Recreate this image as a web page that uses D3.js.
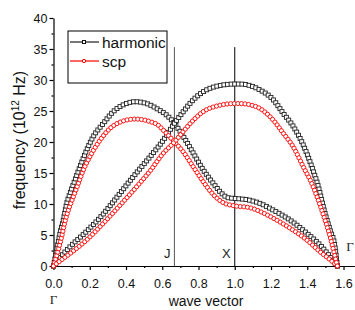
<!DOCTYPE html>
<html>
<head>
<meta charset="utf-8">
<script src="https://cdn.jsdelivr.net/npm/d3@7"></script>
<style>
  body { margin: 0; background: #fff; }
  svg { display: block; font-family: Arial, "Liberation Sans", sans-serif; }
</style>
</head>
<body>
<svg id="chart" width="355" height="310"></svg>
<script>
// [wave vector, frequency (10^12 Hz)]
var harmonic1 = [[0,0],[0.021,3.1],[0.036,5.3],[0.054,7.4],[0.073,10.1],[0.091,11.7],[0.119,13.9],[0.146,16.0],
  [0.183,18.7],[0.22,20.9],[0.275,23.0],[0.33,24.9],[0.385,26.0],[0.45,26.5],[0.514,26.2],[0.569,25.4],[0.633,24.1],
  [0.667,23.0],[0.716,20.9],[0.771,18.2],[0.826,15.5],[0.882,13.3],[0.928,11.7],[0.964,11.0],[1.0,10.9],[1.084,10.6],
  [1.139,10.1],[1.213,9.0],[1.305,7.4],[1.397,5.3],[1.47,3.4],[1.526,1.5],[1.566,0]];
var harmonic2 = [[0,0],[0.04,1.5],[0.091,3.1],[0.183,5.6],[0.275,8.4],[0.358,11.4],[0.44,14.4],[0.532,17.6],
  [0.606,20.3],[0.667,23.0],[0.716,24.9],[0.771,26.8],[0.826,28.1],[0.9,29.0],[1.0,29.35],[1.029,29.35],[1.084,29.1],
  [1.139,28.4],[1.213,26.8],[1.268,24.6],[1.323,22.5],[1.378,19.5],[1.425,16.0],[1.461,12.8],[1.498,8.5],[1.526,5.8],
  [1.553,3.1],[1.566,0]];
var scp1 = [[0,0],[0.027,2.6],[0.045,4.7],[0.063,7.1],[0.082,9.0],[0.11,11.2],[0.137,13.3],[0.165,15.5],[0.2,17.6],
  [0.257,20.3],[0.312,22.2],[0.376,23.3],[0.45,23.7],[0.532,23.3],[0.578,22.7],[0.606,21.9],[0.667,20.0],[0.716,18.4],
  [0.771,16.0],[0.826,13.6],[0.882,11.5],[0.937,10.2],[1.0,9.7],[1.084,9.4],[1.139,8.8],[1.213,7.7],[1.305,6.1],
  [1.397,4.2],[1.47,2.3],[1.526,1.0],[1.566,0]];
var scp2 = [[0,0],[0.04,0.9],[0.091,2.0],[0.183,4.2],[0.275,6.9],[0.367,9.8],[0.459,12.8],[0.532,15.3],[0.606,18.2],
  [0.667,20.0],[0.716,21.7],[0.771,23.5],[0.826,24.9],[0.9,25.8],[1.0,26.2],[1.029,26.2],[1.084,26.0],[1.139,25.4],
  [1.213,23.5],[1.268,21.4],[1.323,19.2],[1.378,16.0],[1.425,13.3],[1.461,10.6],[1.498,7.4],[1.526,4.7],[1.544,2.6],
  [1.566,0]];

var seriesNames = ["harmonic", "scp"];
var symPoints = [0.667, 1.0];
var symLabels = ["J", "X"];
var symTop = 35.3;
var gammaEnd = 1.566;

var xMajor = [0, 0.2, 0.4, 0.6, 0.8, 1.0, 1.2, 1.4, 1.6];
var xMinor = [0.1, 0.3, 0.5, 0.7, 0.9, 1.1, 1.3, 1.5];
var yMajor = [0, 5, 10, 15, 20, 25, 30, 35, 40];
var yMinor = [2.5, 7.5, 12.5, 17.5, 22.5, 27.5, 32.5, 37.5];

var svg = d3.select("#chart");

var x = d3.scaleLinear().domain([0, 1.66]).range([53.5, 354.4]);
var y = d3.scaleLinear().domain([0, 40]).range([266, 18]);

// axes
var xAxis = svg.append("g").attr("transform", "translate(0," + y(0) + ")");
xAxis.call(d3.axisBottom(x).tickValues(xMajor).tickSize(4).tickSizeOuter(0).tickPadding(9).tickFormat(d3.format(".1f")));
xAxis.append("g").call(d3.axisBottom(x).tickValues(xMinor).tickSize(2).tickFormat(""))
  .select(".domain").remove();

var yAxis = svg.append("g").attr("transform", "translate(" + x(0) + ",0)");
yAxis.call(d3.axisLeft(y).tickValues(yMajor).tickSize(4).tickSizeOuter(0).tickPadding(2));
yAxis.append("g").call(d3.axisLeft(y).tickValues(yMinor).tickSize(2).tickFormat(""))
  .select(".domain").remove();

svg.selectAll(".domain, .tick line").attr("stroke", "#000").attr("stroke-width", 1.2);
svg.selectAll(".tick text").attr("font-size", "12.5px").attr("font-family", "Arial, 'Liberation Sans', sans-serif").attr("fill", "#111");

// symmetry point lines
svg.selectAll("line.sym")
  .data(symPoints)
  .enter()
  .append("line")
  .classed("sym", true)
  .attr("x1", d => x(d)).attr("x2", d => x(d))
  .attr("y1", y(0)).attr("y2", y(symTop))
  .attr("stroke", (d, i) => i == 0 ? "#555" : "#000")
  .attr("stroke-width", 1);

svg.selectAll("text.sym")
  .data(symLabels)
  .enter()
  .append("text")
  .classed("sym", true)
  .attr("x", (d, i) => x(symPoints[i]) - 4)
  .attr("y", y(0) - 8)
  .attr("text-anchor", "end")
  .attr("font-size", "13px")
  .attr("fill", "#222")
  .text(d => d);

svg.append("text")
  .attr("x", x(gammaEnd) + 9).attr("y", y(0) - 15)
  .attr("font-family", "'Liberation Serif', 'DejaVu Serif', serif")
  .attr("font-size", "13px").attr("fill", "#222")
  .text("Γ");
svg.append("text")
  .attr("x", x(0)).attr("y", 304)
  .attr("text-anchor", "middle")
  .attr("font-family", "'Liberation Serif', 'DejaVu Serif', serif")
  .attr("font-size", "13px").attr("fill", "#222")
  .text("Γ");

// curves: the original is sampled densely, so symbols are spaced along the drawn curve
var line = d3.line()
  .x(d => x(d[0]))
  .y(d => y(d[1]))
  .curve(d3.curveMonotoneX);

var step = 3.6;

function drawSeries(data, kind) {
  var path = svg.append("path").attr("d", line(data)).attr("fill", "none").attr("stroke", "none");
  var node = path.node();
  var len = node.getTotalLength();
  var n = Math.round(len / step);
  var pts = d3.range(n + 1).map(i => node.getPointAtLength(i * len / n));
  var g = svg.append("g");
  if (kind == "harmonic") {
    g.selectAll("rect")
      .data(pts)
      .enter()
      .append("rect")
      .attr("x", d => d.x - 2).attr("y", d => d.y - 2)
      .attr("width", 4).attr("height", 4)
      .attr("fill", "#fff").attr("stroke", "#222").attr("stroke-width", 0.9);
  } else {
    g.selectAll("circle")
      .data(pts)
      .enter()
      .append("circle")
      .attr("cx", d => d.x).attr("cy", d => d.y).attr("r", 2.1)
      .attr("fill", "#fff").attr("stroke", "#f00").attr("stroke-width", 0.9);
  }
}

drawSeries(harmonic1, "harmonic");
drawSeries(harmonic2, "harmonic");
drawSeries(scp1, "scp");
drawSeries(scp2, "scp");

// axis titles
svg.append("text")
  .attr("x", 206).attr("y", 306)
  .attr("text-anchor", "middle")
  .attr("font-size", "14px").attr("fill", "#111")
  .text("wave vector");

var yt = svg.append("text")
  .attr("transform", "translate(25,140) rotate(-90)")
  .attr("text-anchor", "middle")
  .attr("font-size", "16px").attr("fill", "#111");
yt.append("tspan").text("frequency (10");
yt.append("tspan").attr("font-size", "10px").attr("dy", "-0.6em").text("12");
yt.append("tspan").attr("dy", "0.4em").text(" Hz)");

// legend
var legend = svg.append("g");
legend.append("rect")
  .attr("x", 68).attr("y", 31).attr("width", 99).attr("height", 52)
  .attr("fill", "#fff").attr("stroke", "#000").attr("stroke-width", 1);

var items = legend.selectAll("g.item")
  .data(seriesNames)
  .enter()
  .append("g")
  .classed("item", true)
  .attr("transform", (d, i) => "translate(0," + (42 + i * 19) + ")");

items.append("line")
  .attr("x1", 70).attr("x2", 99)
  .attr("stroke", d => d == "harmonic" ? "#555" : "#ff4040")
  .attr("stroke-width", 1.6);
items.filter(d => d == "harmonic").append("rect")
  .attr("x", 82.5).attr("y", -1.5).attr("width", 3).attr("height", 3)
  .attr("fill", "#fff").attr("stroke", "#111");
items.filter(d => d == "scp").append("circle")
  .attr("cx", 84).attr("r", 1.7)
  .attr("fill", "#fff").attr("stroke", "#f00");
items.append("text")
  .attr("x", 102).attr("y", 5.5)
  .attr("font-size", "15.5px").attr("fill", "#111")
  .text(d => d);
</script>
</body>
</html>
